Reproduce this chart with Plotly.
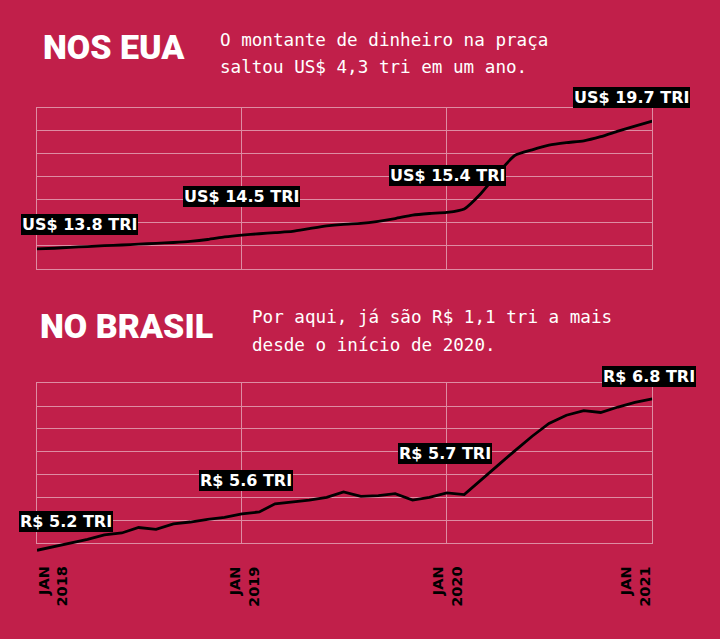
import pandas as pd
import plotly.graph_objects as go

BG = "#C11F4A"
GRID = "#DE8CA3"

meses = pd.date_range("2018-01-01", "2021-01-01", freq="MS")

# dinheiro em circulação nos EUA (US$ tri), mensal
eua_valores = [13.86, 13.89, 13.93, 13.96, 14.00, 14.03, 14.07, 14.10, 14.14, 14.19,
               14.27, 14.38, 14.46, 14.52, 14.57, 14.62, 14.74, 14.86, 14.93, 14.97,
               15.06, 15.18, 15.33, 15.40, 15.45, 15.60, 16.25, 17.15, 17.92, 18.17,
               18.37, 18.48, 18.56, 18.74, 18.98, 19.20, 19.42]
# no Brasil (R$ tri), mensal
brasil_valores = [5.17, 5.21, 5.25, 5.29, 5.34, 5.36, 5.42, 5.40, 5.46, 5.48,
                  5.51, 5.53, 5.57, 5.59, 5.68, 5.70, 5.72, 5.75, 5.81, 5.76,
                  5.77, 5.79, 5.72, 5.75, 5.80, 5.78, 5.94, 6.10, 6.26, 6.42,
                  6.56, 6.65, 6.70, 6.68, 6.74, 6.79, 6.83]

rotulo_idx = [0, 12, 24, 36]
eua_rotulos = ["US$ 13.8 TRI", "US$ 14.5 TRI", "US$ 15.4 TRI", "US$ 19.7 TRI"]
brasil_rotulos = ["R$ 5.2 TRI", "R$ 5.6 TRI", "R$ 5.7 TRI", "R$ 6.8 TRI"]

tick_datas = ["2018-01-01", "2019-01-01", "2020-01-01", "2021-01-01"]
tick_textos = ["JAN<br>2018", "JAN<br>2019", "JAN<br>2020", "JAN<br>2021"]

H = 639
xdom = [37 / 720, 652.3 / 720]
ydom_top = [1 - 268.7 / H, 1 - 107.7 / H]
ydom_bot = [1 - 543 / H, 1 - 383.3 / H]
ydom_bot_line = [1 - 557 / H, ydom_bot[1]]
bot_range = [5.25, 7.0]
px_per_unit = (ydom_bot[1] - ydom_bot[0]) * H / (bot_range[1] - bot_range[0])
bot_line_range = [bot_range[0] - (ydom_bot[0] - ydom_bot_line[0]) * H / px_per_unit, bot_range[1]]

fig = go.Figure()
fig.add_trace(go.Scatter(x=meses, y=eua_valores, mode="lines", xaxis="x", yaxis="y",
                         line=dict(color="black", width=2.8, shape="spline", smoothing=0.6),
                         hoverinfo="skip"))
fig.add_trace(go.Scatter(x=meses, y=brasil_valores, mode="lines", xaxis="x3", yaxis="y3",
                         line=dict(color="black", width=2.8),
                         hoverinfo="skip"))

grid_x = dict(type="date", domain=xdom, range=["2018-01-01", "2021-01-01"],
              tickvals=tick_datas, showticklabels=False, ticks="",
              showgrid=True, gridcolor=GRID, gridwidth=1,
              showline=True, mirror=True, linecolor=GRID, linewidth=1, zeroline=False)
grid_y = dict(showticklabels=False, ticks="", showgrid=True, gridcolor=GRID, gridwidth=1,
              showline=True, mirror=True, linecolor=GRID, linewidth=1, zeroline=False)

fig.update_layout(
    width=720, height=639,
    margin=dict(t=0, b=0, l=0, r=0),
    paper_bgcolor=BG, plot_bgcolor="rgba(0,0,0,0)",
    showlegend=False,
    xaxis=dict(grid_x, anchor="y"),
    yaxis=dict(grid_y, domain=ydom_top, range=[13, 20], dtick=1, anchor="x"),
    xaxis2=dict(grid_x, anchor="y2"),
    yaxis2=dict(grid_y, domain=ydom_bot, range=bot_range, dtick=0.25, anchor="x2"),
    xaxis3=dict(type="date", domain=xdom, range=["2018-01-01", "2021-01-01"], visible=False,
                anchor="y3"),
    yaxis3=dict(domain=ydom_bot_line, range=bot_line_range, visible=False, anchor="x3"),
)
# keep subplot 2 visible with an invisible trace
fig.add_trace(go.Scatter(x=[meses[0]], y=[6], xaxis="x2", yaxis="y2", mode="markers",
                         marker=dict(opacity=0), hoverinfo="skip"))

anns = []
titulo_font = dict(family="Roboto", size=34, color="white", weight=900)
sub_font = dict(family="DejaVu Sans Mono", size=17.6, color="white")
anns.append(dict(text="NOS EUA", x=41 / 720, y=1 - 47 / H, font=titulo_font))
anns.append(dict(text="O montante de dinheiro na praça", x=218 / 720, y=1 - 40 / H, font=sub_font))
anns.append(dict(text="saltou US$ 4,3 tri em um ano.", x=218 / 720, y=1 - 67 / H, font=sub_font))
anns.append(dict(text="NO BRASIL", x=38 / 720, y=1 - 326 / H, font=titulo_font))
anns.append(dict(text="Por aqui, já são R$ 1,1 tri a mais", x=250 / 720, y=1 - 317 / H, font=sub_font))
anns.append(dict(text="desde o início de 2020.", x=250 / 720, y=1 - 345 / H, font=sub_font))
for a in anns:
    a.update(xref="paper", yref="paper", xanchor="left", yanchor="middle", showarrow=False)

rot_font = dict(family="DejaVu Sans", size=16, color="white", weight="bold")
eua_pos = [("left", -16, 14), ("center", 0, 28), ("center", 1, 26), ("center", -21, 13)]
for i, txt, (xa, dx, dy) in zip(rotulo_idx, eua_rotulos, eua_pos):
    anns.append(dict(text=txt, x=meses[i], y=eua_valores[i], xref="x", yref="y",
                     xanchor=xa, yanchor="bottom", xshift=dx, yshift=dy, showarrow=False,
                     bgcolor="black", borderpad=1, borderwidth=0, font=rot_font))
br_pos = [("left", -18, 18), ("center", 4, 23), ("center", -2, 29), ("center", -3, 12)]
for i, txt, (xa, dx, dy) in zip(rotulo_idx, brasil_rotulos, br_pos):
    anns.append(dict(text=txt, x=meses[i], y=brasil_valores[i], xref="x3", yref="y3",
                     xanchor=xa, yanchor="bottom", xshift=dx, yshift=dy, showarrow=False,
                     bgcolor="black", borderpad=1, borderwidth=0, font=rot_font))

tick_font = dict(family="DejaVu Sans", size=14.5, color="black", weight="bold")
tick_pos = [("left", -4), ("center", 2), ("center", 0), ("right", 2)]
for d, txt, (xa, dx) in zip(tick_datas, tick_textos, tick_pos):
    anns.append(dict(text=txt, x=d, y=1 - 565 / H, xref="x2", yref="paper",
                     xanchor=xa, yanchor="top", xshift=dx, textangle=-90, align="right",
                     showarrow=False, font=tick_font))

fig.update_layout(annotations=anns)
# page has a default 8px body margin; drop it so the figure sits flush
fig.write_html("out.html", config={"displayModeBar": False},
               post_script="document.body.style.margin='0';"
                           "document.body.style.background='" + BG + "';")
